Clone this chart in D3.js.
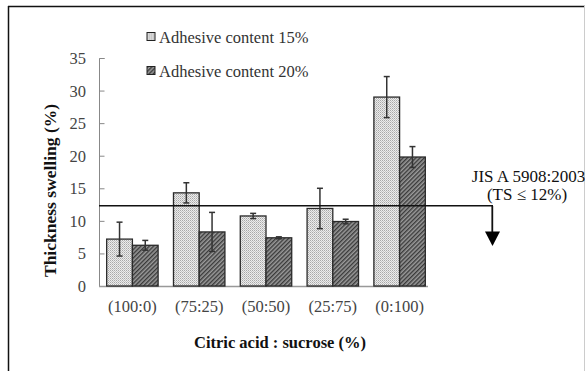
<!DOCTYPE html>
<html>
<head>
<meta charset="utf-8">
<script src="https://cdn.jsdelivr.net/npm/d3@7"></script>
<style>
  body { margin: 0; background: #fff; }
  svg text { font-family: "Liberation Serif", "Times New Roman", serif; }
</style>
</head>
<body>
<svg id="chart" width="585" height="371"></svg>
<script>
// ratios of citric acid : sucrose
const categories = ["(100:0)", "(75:25)", "(50:50)", "(25:75)", "(0:100)"];
const seriesNames = ["Adhesive content 15%", "Adhesive content 20%"];
const ts15 = [7.2, 14.3, 10.75, 11.9, 29.0];
const err15 = [2.6, 1.55, 0.4, 3.1, 3.15];
const ts20 = [6.25, 8.3, 7.4, 9.9, 19.8];
const err20 = [0.75, 3.0, 0.15, 0.35, 1.6];
const yTicks = [0, 5, 10, 15, 20, 25, 30, 35];
const standardValue = 12.3;

const svg = d3.select('#chart');

// outer frame
svg.append('line').attr('x1', 8).attr('x2', 585).attr('y1', 6.5).attr('y2', 6.5)
  .attr('stroke', '#111').attr('stroke-width', 1.5);
svg.append('line').attr('x1', 8.5).attr('x2', 8.5).attr('y1', 6).attr('y2', 371)
  .attr('stroke', '#111').attr('stroke-width', 1.5);
svg.append('line').attr('x1', 584.5).attr('x2', 584.5).attr('y1', 6).attr('y2', 371)
  .attr('stroke', '#ccc').attr('stroke-width', 1);

// fills
const defs = svg.append('defs');
const dots = defs.append('pattern').attr('id', 'dots')
  .attr('patternUnits', 'userSpaceOnUse').attr('width', 2).attr('height', 2);
dots.append('rect').attr('width', 2).attr('height', 2).attr('fill', '#ececec');
dots.append('rect').attr('width', 1).attr('height', 1).attr('fill', '#a8a8a8');
dots.append('rect').attr('x', 1).attr('y', 1).attr('width', 1).attr('height', 1).attr('fill', '#c4c4c4');

const hatch = defs.append('pattern').attr('id', 'hatch')
  .attr('patternUnits', 'userSpaceOnUse').attr('width', 3).attr('height', 3)
  .attr('patternTransform', 'rotate(-45)');
hatch.append('rect').attr('width', 3).attr('height', 3).attr('fill', '#9a9a9a');
hatch.append('rect').attr('width', 3).attr('height', 1.4).attr('fill', '#3a3a3a');

const fills = ['url(#dots)', 'url(#hatch)'];

const x0 = d3.scaleBand().domain(categories).range([99, 433])
  .paddingInner(0.23).paddingOuter(0.115);
const x1 = d3.scaleBand().domain([0, 1]).range([0, x0.bandwidth()]);
const y = d3.scaleLinear().domain([0, 35]).range([286, 58]);

// y axis, ticks pointing inward
const yAxis = svg.append('g').attr('transform', 'translate(99.5,0)')
  .call(d3.axisRight(y).tickValues(yTicks).tickSize(5).tickFormat(''));
yAxis.select('.domain').attr('stroke', '#888').attr('d', 'M5,58.5H0V286.5');
yAxis.selectAll('.tick line').attr('stroke', '#888');
svg.append('g').selectAll('text').data(yTicks).join('text')
  .attr('x', 86).attr('y', d => y(d) + 6)
  .attr('text-anchor', 'end').attr('font-size', 16.5).attr('fill', '#444')
  .text(d => d);

// x baseline
svg.append('line').attr('x1', 99).attr('x2', 428).attr('y1', 286.5).attr('y2', 286.5)
  .attr('stroke', '#999').attr('stroke-width', 1.5);

svg.append('g').selectAll('text').data(categories).join('text')
  .attr('x', d => x0(d) + x0.bandwidth() / 2).attr('y', 312)
  .attr('text-anchor', 'middle').attr('font-size', 16.5).attr('fill', '#444')
  .text(d => d);

// bars
const rows = categories.map((c, i) => [
  { c, s: 0, v: ts15[i], e: err15[i] },
  { c, s: 1, v: ts20[i], e: err20[i] }
]).flat();

svg.append('g').selectAll('rect').data(rows).join('rect')
  .attr('x', d => x0(d.c) + x1(d.s))
  .attr('y', d => y(d.v))
  .attr('width', x1.bandwidth())
  .attr('height', d => y(0) - y(d.v))
  .attr('fill', d => fills[d.s])
  .attr('stroke', '#2a2a2a').attr('stroke-width', 1.3);

// error bars
const eb = svg.append('g').attr('stroke', '#333').attr('stroke-width', 1.5);
rows.forEach(d => {
  const cx = x0(d.c) + x1(d.s) + x1.bandwidth() / 2;
  eb.append('line').attr('x1', cx).attr('x2', cx)
    .attr('y1', y(d.v + d.e)).attr('y2', y(d.v - d.e));
  [d.v + d.e, d.v - d.e].forEach(v => {
    eb.append('line').attr('x1', cx - 3).attr('x2', cx + 3)
      .attr('y1', y(v)).attr('y2', y(v));
  });
});

// JIS standard line and arrow
const ly = y(standardValue);
svg.append('line').attr('x1', 99).attr('x2', 493).attr('y1', ly).attr('y2', ly)
  .attr('stroke', '#111').attr('stroke-width', 1.5);
svg.append('line').attr('x1', 492.3).attr('x2', 492.3).attr('y1', ly).attr('y2', 234)
  .attr('stroke', '#111').attr('stroke-width', 1.8);
svg.append('path').attr('d', 'M485,231.5L500,231.5L492.5,246Z').attr('fill', '#000');

svg.append('text').attr('x', 528.5).attr('y', 182).attr('text-anchor', 'middle')
  .attr('font-size', 17).attr('fill', '#111').text('JIS A 5908:2003');
svg.append('text').attr('x', 527).attr('y', 199.5).attr('text-anchor', 'middle')
  .attr('font-size', 17).attr('fill', '#111').text('(TS \u2264 12%)');

// legend
const lg = svg.append('g').selectAll('g').data(seriesNames).join('g')
  .attr('transform', (d, i) => `translate(147,${32.5 + i * 34})`);
lg.append('rect').attr('width', 8).attr('height', 8)
  .attr('fill', (d, i) => fills[i]).attr('stroke', '#222').attr('stroke-width', 1);
lg.append('text').attr('x', 12).attr('y', 10.5).attr('font-size', 16.5).attr('fill', '#333')
  .text(d => d);

// axis titles
svg.append('text').attr('transform', 'translate(56,190.5) rotate(-90)')
  .attr('text-anchor', 'middle').attr('font-size', 17.5).attr('font-weight', 'bold')
  .attr('fill', '#111').text('Thickness swelling (%)');
svg.append('text').attr('x', 280).attr('y', 348).attr('text-anchor', 'middle')
  .attr('font-size', 16.5).attr('font-weight', 'bold').attr('fill', '#111')
  .text('Citric acid : sucrose (%)');
</script>
</body>
</html>
